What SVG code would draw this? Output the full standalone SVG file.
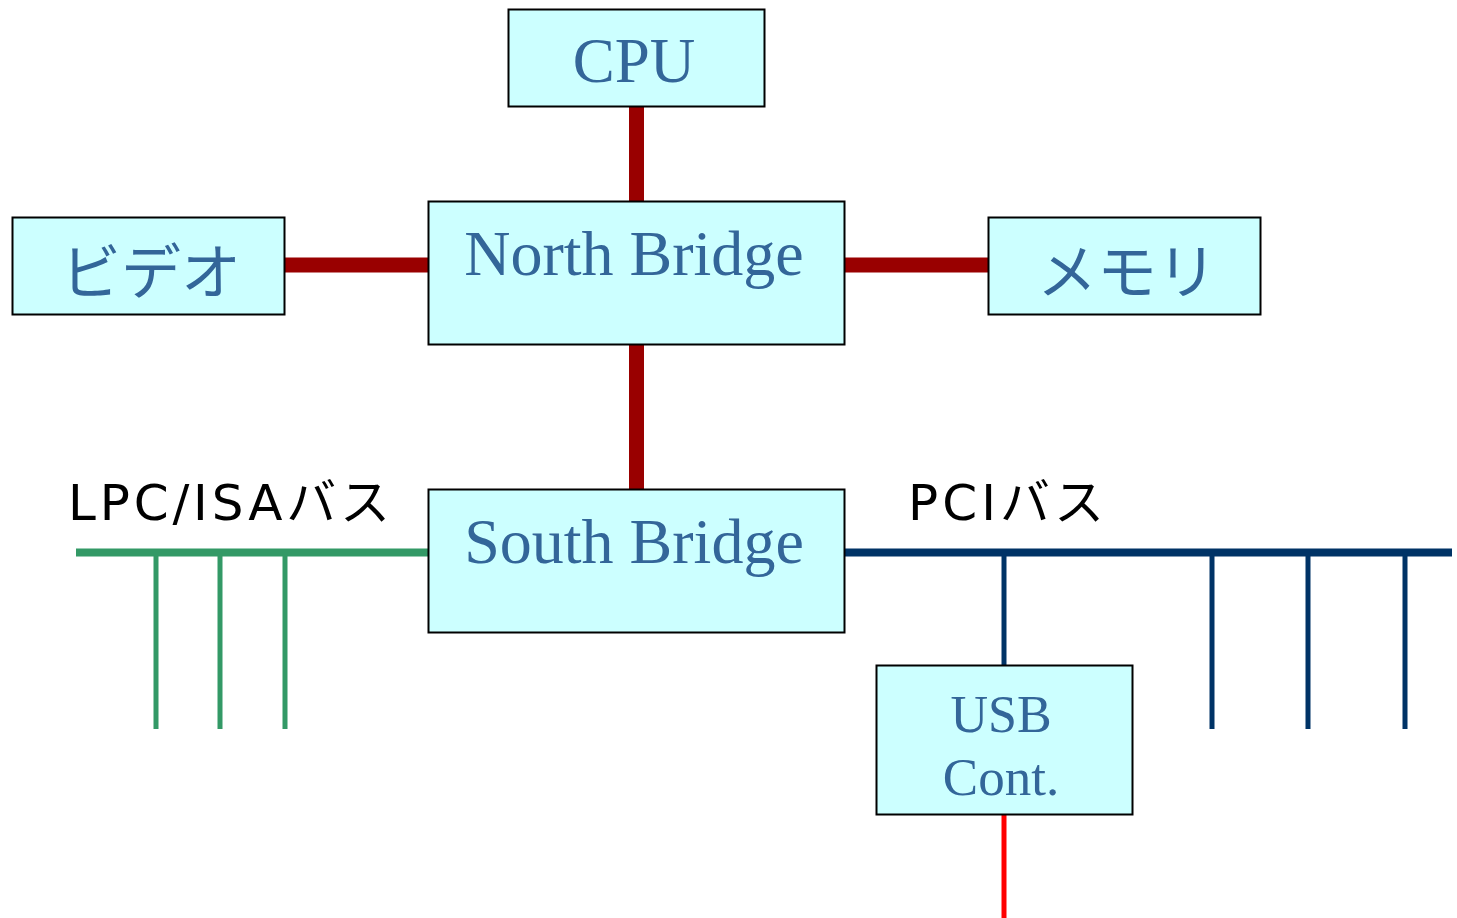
<svg xmlns="http://www.w3.org/2000/svg" width="1457" height="918" viewBox="0 0 1457 918">
<style>
.box{fill:#CCFFFF;stroke:#000;stroke-width:2}
.t{font-family:"Liberation Serif","Times New Roman",serif;fill:#336699;text-anchor:middle}
.j{font-family:"Noto Sans CJK JP","Noto Sans",sans-serif;fill:#336699;text-anchor:middle}
.lbl{font-family:"DejaVu Sans","Noto Sans CJK JP",sans-serif;fill:#000;font-size:50px}
.jp{font-family:"Noto Sans CJK JP",sans-serif}
.red{stroke:#990000;stroke-width:15;fill:none}
.isa{stroke:#339966;fill:none}
.pci{stroke:#003366;fill:none}
</style>
<rect width="1457" height="918" fill="#fff"/>
<g id="connectors">
<line class="red" x1="636.5" y1="106" x2="636.5" y2="202"/>
<line class="red" x1="284" y1="265" x2="429" y2="265"/>
<line class="red" x1="844" y1="265" x2="989" y2="265"/>
<line class="red" x1="636.5" y1="344" x2="636.5" y2="490"/>
<line class="isa" stroke-width="8" x1="76" y1="552.5" x2="429" y2="552.5"/>
<line class="isa" stroke-width="5" x1="156" y1="552" x2="156" y2="729"/>
<line class="isa" stroke-width="5" x1="220" y1="552" x2="220" y2="729"/>
<line class="isa" stroke-width="5" x1="285" y1="552" x2="285" y2="729"/>
<line class="pci" stroke-width="8" x1="844" y1="552.5" x2="1452" y2="552.5"/>
<line class="pci" stroke-width="5" x1="1004" y1="552" x2="1004" y2="666"/>
<line class="pci" stroke-width="5" x1="1212" y1="552" x2="1212" y2="729"/>
<line class="pci" stroke-width="5" x1="1308" y1="552" x2="1308" y2="729"/>
<line class="pci" stroke-width="5" x1="1405" y1="552" x2="1405" y2="729"/>
<line stroke="#FF0000" stroke-width="5" x1="1004" y1="810" x2="1004" y2="918"/>
</g>
<g id="cpu"><rect class="box" x="508.5" y="9.5" width="256" height="97"/><text class="t" x="634" y="82" font-size="63">CPU</text></g>
<g id="northbridge"><rect class="box" x="428.5" y="201.5" width="416" height="143"/><text class="t" x="634" y="275" font-size="64">North Bridge</text></g>
<g id="video"><rect class="box" x="12.5" y="217.5" width="272" height="97"/><text class="j" x="151" y="294" font-size="60">ビデオ</text></g>
<g id="memory"><rect class="box" x="988.5" y="217.5" width="272" height="97"/><text class="j" x="1127" y="294" font-size="60">メモリ</text></g>
<g id="southbridge"><rect class="box" x="428.5" y="489.5" width="416" height="143"/><text class="t" x="634" y="563" font-size="64">South Bridge</text></g>
<g id="usb"><rect class="box" x="876.5" y="665.5" width="256" height="149"/><text class="t" x="1001" y="732" font-size="52">USB</text><text class="t" x="1001" y="795" font-size="53">Cont.</text></g>
<g id="labels">
<text class="lbl" x="68" y="520" textLength="322" lengthAdjust="spacing">LPC/ISA<tspan class="jp">バス</tspan></text>
<text class="lbl" x="908" y="520" textLength="196" lengthAdjust="spacing">PCI<tspan class="jp">バス</tspan></text>
</g>
</svg>
